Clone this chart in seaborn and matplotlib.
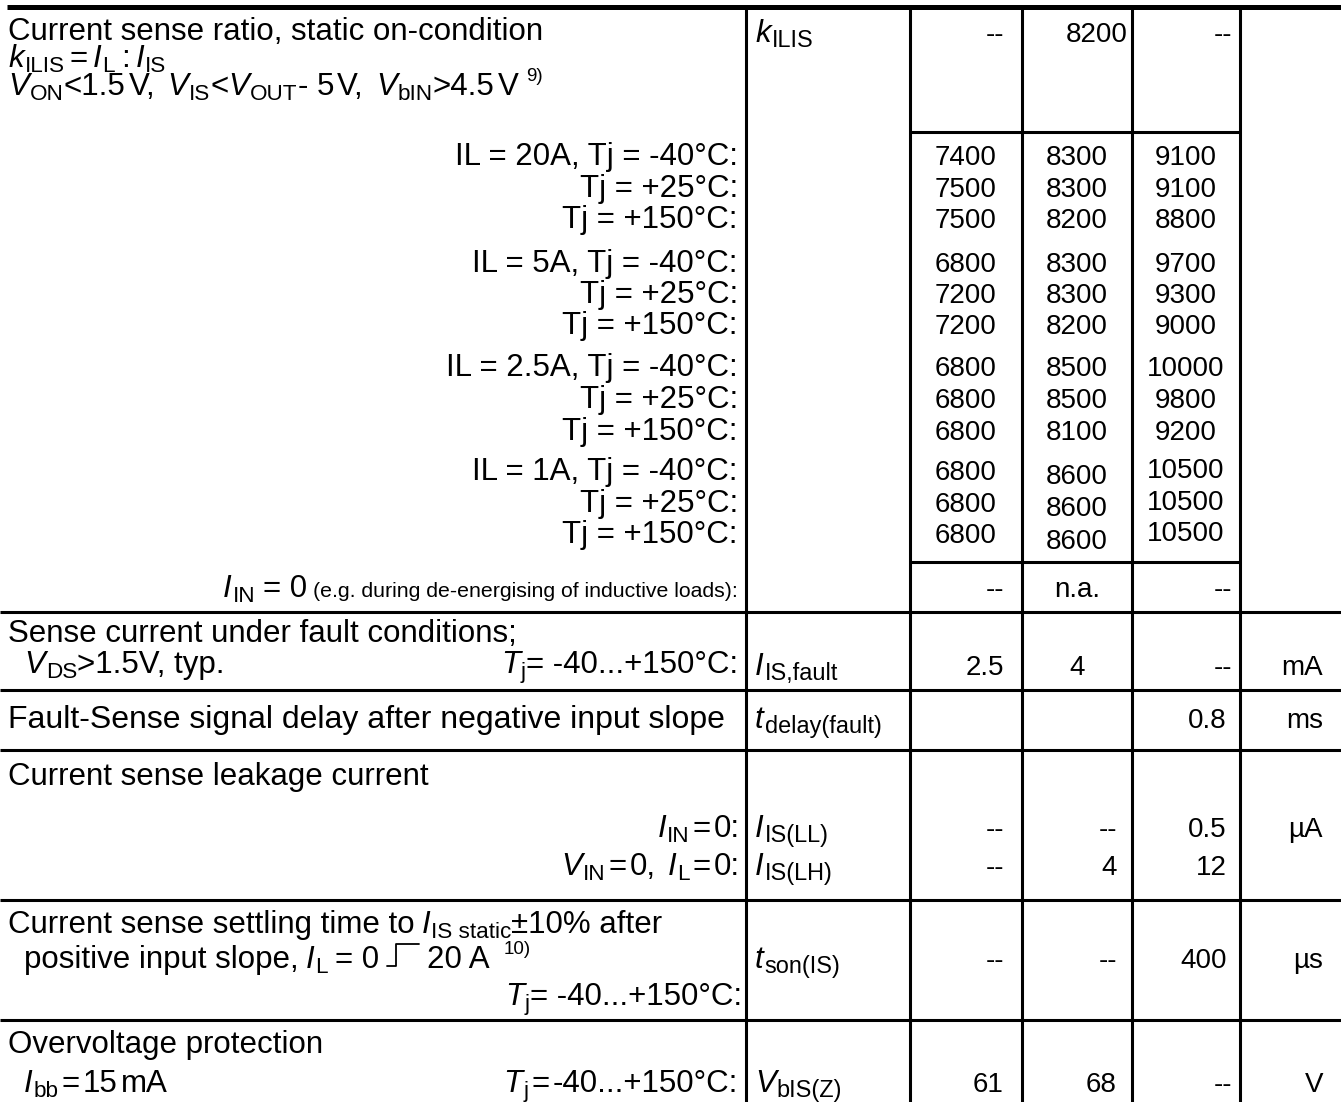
import numpy as np
import pandas as pd
import matplotlib
matplotlib.use("Agg")
import matplotlib.pyplot as plt
import seaborn as sns

sns.set_theme(style="white")
plt.rcParams['font.family'] = ['Liberation Sans', 'DejaVu Sans']

# --- données : rapport de mesure de courant (k_ILIS) ---
ratio_il = ["IL = 20A, ", "", "", "IL = 5A, ", "", "", "IL = 2.5A, ", "", "", "IL = 1A, ", "", ""]
ratio_tj = ["Tj = -40°C:", "Tj = +25°C:", "Tj = +150°C:"] * 4
ratio_min = [7400, 7500, 7500, 6800, 7200, 7200, 6800, 6800, 6800, 6800, 6800, 6800]
ratio_typ = [8300, 8300, 8200, 8300, 8300, 8200, 8500, 8500, 8100, 8600, 8600, 8600]
ratio_max = [9100, 9100, 8800, 9700, 9300, 9000, 10000, 9800, 9200, 10500, 10500, 10500]

# --- autres paramètres (symbole = lettre + indice) ---
param_letter = ["I", "t", "I", "I", "t", "V"]
param_index = ["IS,fault", "delay(fault)", "IS(LL)", "IS(LH)", "son(IS)", "bIS(Z)"]
param_min = ["2.5", "", "--", "--", "--", "61"]
param_typ = ["4", "", "--", "4", "--", "68"]
param_max = ["--", "0.8", "0.5", "12", "400", "--"]
param_unit = ["mA", "ms", "µA", "", "µs", "V"]

df = pd.DataFrame({"il": ratio_il, "tj": ratio_tj, "min": ratio_min,
                   "typ": ratio_typ, "max": ratio_max})

# --- mise en page (pixels) ---
W, H = 1341, 1102
fig = plt.figure(figsize=(W / 100, H / 100), dpi=100)
ax = fig.add_axes([0, 0, 1, 1])
ax.set_xlim(0, W)
ax.set_ylim(H, 0)
ax.axis('off')
fig.patch.set_facecolor('white')

FS_L = 22.5     # texte de gauche
FS_V = 20       # valeurs
FS_S = 22.5     # symboles
SUB = 0.72
LW = 2.2
xc = [746, 910, 1022, 1132, 1240]     # lignes verticales
x_left = 8
x_cond = 738
x_sym = 755
x_min_r, x_typ_r, x_max_r, x_unit_r = 1004, 1117, 1227, 1323
x_min_c, x_typ_c, x_max_c = 966, 1077, 1186

# lignes du tableau
ax.plot([7, W], [7, 7], color='black', lw=3.6, solid_capstyle='butt')
for x in xc:
    ax.plot([x, x], [7, H], color='black', lw=LW, solid_capstyle='butt')
for y in [132, 562]:
    ax.plot([xc[1], xc[4]], [y, y], color='black', lw=LW, solid_capstyle='butt')
for y in [612, 690, 750, 900, 1020]:
    ax.plot([0, W], [y, y], color='black', lw=LW, solid_capstyle='butt')

renderer = fig.canvas.get_renderer()


def txt(x, y, s, ha='left', size=FS_V, **kw):
    return ax.text(x, y, s, ha=ha, va='baseline', fontsize=size, color='black', **kw)


def rich(x, y, segs, ha='left', size=FS_L, sub=SUB):
    """segments : (texte, type) ou nombre = espace en px.
    type : n normal, i italique, b indice, p exposant, s petit"""
    objs, widths = [], []
    for seg in segs:
        if isinstance(seg, (int, float)):
            objs.append(None)
            widths.append(seg)
            continue
        s, kind = seg
        fs, dy, style = size, 0, 'normal'
        if kind == 'i':
            style = 'italic'
        elif kind == 'b':
            fs, dy = size * sub, size * 0.22
        elif kind == 'p':
            fs, dy = size * 0.6, -size * 0.62
        elif kind == 's':
            fs = size * 0.68
        t = ax.text(0, y + dy, s, ha='left', va='baseline', fontsize=fs,
                    fontstyle=style, color='black')
        objs.append(t)
        widths.append(t.get_window_extent(renderer).width)
    total = sum(widths)
    cur = x - total if ha == 'right' else (x - total / 2 if ha == 'center' else x)
    for t, w in zip(objs, widths):
        if t is not None:
            t.set_x(cur)
        cur += w
    return cur


def sym(letter, index):
    return [(letter, 'i'), 1, (index, 'b')]


# bloc 1 : rapport k_ILIS
txt(x_left, 40, "Current sense ratio, static on-condition", size=FS_L)
rich(x_left, 67, sym("k", "ILIS") + [5, ("=", 'n'), 5] + sym("I", "L") + [6, (":", 'n'), 6] + sym("I", "IS"))
rich(x_left, 95, sym("V", "ON") + [("<1.5", 'n'), 3, ("V,", 'n'), 12] + sym("V", "IS") + [("<", 'n')]
     + sym("V", "OUT") + [("- 5", 'n'), 3, ("V,", 'n'), 12] + sym("V", "bIN") + [(">4.5", 'n'), 3, ("V", 'n'), 8, ("9)", 'p')])
rich(x_sym, 42, sym("k", "ILIS"), size=FS_S, sub=0.75)
txt(x_min_r, 42, "--", ha='right')
txt(1128, 42, "8200", ha='right')
txt(x_max_r + 5, 42, "--", ha='right')

row_y = [165, 197, 228, 272, 303, 334, 376, 408, 440, 480, 512, 543]
typ_dy = [0] * 9 + [4, 4, 6]
max_dy = [0] * 9 + [-2, -2, -2]
for i, r in df.iterrows():
    y = row_y[i]
    txt(x_cond, y, r["il"] + r["tj"], ha='right', size=FS_L)
    txt(x_min_c, y, str(r["min"]), ha='center')
    txt(x_typ_c, y + typ_dy[i], str(r["typ"]), ha='center')
    txt(x_max_c, y + max_dy[i], str(r["max"]), ha='center')

# I_IN = 0
rich(x_cond, 597, sym("I", "IN") + [8, ("= 0", 'n'), 6, ("(e.g. during de-energising of inductive loads):", 's')], ha='right')
txt(x_min_r, 597, "--", ha='right')
txt(x_typ_c, 597, "n.a.", ha='center')
txt(x_max_r + 5, 597, "--", ha='right')

# lignes de paramètres
y_par = [675, 728, 837, 875, 968, 1092]
typ_center = [True, False, False, False, False, False]
for k in range(len(param_letter)):
    y = y_par[k]
    rich(x_sym, y, sym(param_letter[k], param_index[k]), size=FS_S, sub=0.75)
    if param_min[k]:
        txt(x_min_r, y, param_min[k], ha='right')
    if param_typ[k]:
        if typ_center[k]:
            txt(x_typ_c, y, param_typ[k], ha='center')
        else:
            txt(x_typ_r, y, param_typ[k], ha='right')
    if param_max[k]:
        txt(x_max_r + (5 if param_max[k] == "--" else 0), y, param_max[k], ha='right')
    if param_unit[k]:
        txt(x_unit_r, y, param_unit[k], ha='right')

# textes de gauche
txt(x_left, 642, "Sense current under fault conditions;", size=FS_L)
rich(x_left + 16, 673, sym("V", "DS") + [(">1.5V, typ.", 'n')])
rich(x_cond, 673, sym("T", "j") + [("= -40...+150°C:", 'n')], ha='right')
txt(x_left, 728, "Fault-Sense signal delay after negative input slope", size=23)
txt(x_left, 785, "Current sense leakage current", size=FS_L)
rich(x_cond + 2, 837, sym("I", "IN") + [3, ("=", 'n'), 3, ("0:", 'n')], ha='right')
rich(x_cond + 2, 875, sym("V", "IN") + [3, ("=", 'n'), 3, ("0,", 'n'), 12] + sym("I", "L") + [3, ("=", 'n'), 3, ("0:", 'n')], ha='right')
rich(x_left, 933, [("Current sense settling time to", 'n'), 7] + sym("I", "IS static") + [("±10% after", 'n')])
xe = rich(x_left + 16, 968, [("positive input slope,", 'n'), 7] + sym("I", "L") + [7, ("= 0", 'n')])
xs = xe + 8
ax.plot([xs, xs + 9, xs + 9, xs + 32], [966, 966, 944, 944], color='black', lw=1.3)
rich(xs + 40, 968, [("20 A", 'n'), 14, ("10)", 'p')])
rich(x_cond + 4, 1005, sym("T", "j") + [("= -40...+150°C:", 'n')], ha='right')
txt(x_left, 1053, "Overvoltage protection", size=FS_L)
rich(x_left + 16, 1092, sym("I", "bb") + [3, ("=", 'n'), 3, ("15", 'n'), 3, ("mA", 'n')])
rich(x_cond, 1092, sym("T", "j") + [3, ("=", 'n'), 3, ("-40...+150°C:", 'n')], ha='right')

fig.savefig("out.png", dpi=100, facecolor='white')
